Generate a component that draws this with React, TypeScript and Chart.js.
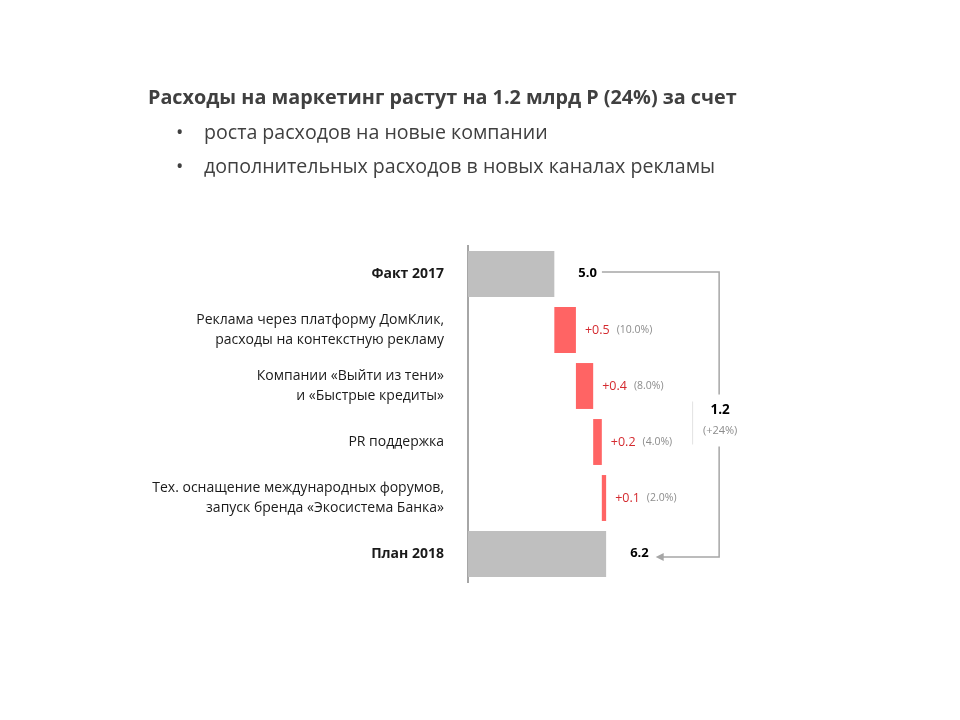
import React, { useEffect, useRef } from "react";
import { Chart, registerables } from "chart.js";

Chart.register(...registerables);

const categories: (string | string[])[] = [
  "Факт 2017",
  ["Реклама через платформу ДомКлик,", "расходы на контекстную рекламу"],
  ["Компании «Выйти из тени»", "и «Быстрые кредиты»"],
  "PR поддержка",
  ["Тех. оснащение международных форумов,", "запуск бренда «Экосистема Банка»"],
  "План 2018",
];
const values = [5.0, 0.5, 0.4, 0.2, 0.1, 6.2];
const isTotal = [true, false, false, false, false, true];
const shareLabels = ["", "(10.0%)", "(8.0%)", "(4.0%)", "(2.0%)", ""];
const totalChange = "1.2";
const totalChangePct = "(+24%)";
const titleText = "Расходы на маркетинг растут на 1.2 млрд Р (24%) за счет";
const bullets = [
  "роста расходов на новые компании",
  "дополнительных расходов в новых каналах рекламы",
];
const axisMin = 3;
const axisMax = 9;

const FONT = "'Open Sans', 'Noto Sans', sans-serif";
const GRAY_BAR = "#bfbfbf";
const RED_BAR = "#ff6464";
const RED_TEXT = "#d42a2f";
const LINE = "#a6a6a6";

function buildFloating(): [number, number][] {
  const out: [number, number][] = [];
  let cum = 0;
  values.forEach((v, i) => {
    if (isTotal[i]) {
      out.push([axisMin, v]);
      cum = v;
    } else {
      out.push([cum, cum + v]);
      cum += v;
    }
  });
  return out;
}

const labelPlugin = {
  id: "waterfallLabels",
  afterDatasetsDraw(chart: any) {
    const ctx = chart.ctx as CanvasRenderingContext2D;
    const meta = chart.getDatasetMeta(0);
    const bars = meta.data as any[];
    ctx.save();
    ctx.textBaseline = "middle";
    ctx.textAlign = "left";
    const totalLabelRight: number[] = [];
    bars.forEach((bar, i) => {
      const endX = Math.max(bar.x, bar.base);
      if (isTotal[i]) {
        ctx.font = `bold 13px ${FONT}`;
        ctx.fillStyle = "#000000";
        const t = values[i].toFixed(1);
        const x = endX + 24;
        ctx.fillText(t, x, bar.y - 1);
        totalLabelRight[i] = x + ctx.measureText(t).width;
      } else {
        ctx.font = `12.5px ${FONT}`;
        ctx.fillStyle = RED_TEXT;
        const t = "+" + values[i].toFixed(1);
        const x = endX + 9;
        ctx.fillText(t, x, bar.y);
        const w = ctx.measureText(t).width;
        ctx.font = `10.5px ${FONT}`;
        ctx.fillStyle = "#8c8c8c";
        ctx.fillText(shareLabels[i], x + w + 7, bar.y);
      }
    });

    // bracket
    const first = bars[0];
    const last = bars[bars.length - 1];
    const lastEnd = Math.max(last.x, last.base);
    const bx = lastEnd + 113;
    const yTop = first.y - 2;
    const yBot = last.y + 3;
    ctx.strokeStyle = LINE;
    ctx.lineWidth = 1.5;
    ctx.beginPath();
    ctx.moveTo(totalLabelRight[0] + 5, yTop);
    ctx.lineTo(bx, yTop);
    ctx.lineTo(bx, yBot);
    ctx.lineTo(totalLabelRight[bars.length - 1] + 12, yBot);
    ctx.stroke();
    // arrow head
    const tip = totalLabelRight[bars.length - 1] + 7;
    ctx.fillStyle = LINE;
    ctx.beginPath();
    ctx.moveTo(tip, yBot);
    ctx.lineTo(tip + 8, yBot - 4);
    ctx.lineTo(tip + 8, yBot + 4);
    ctx.closePath();
    ctx.fill();

    // label box
    const mid = (yTop + yBot) / 2;
    ctx.fillStyle = "#ffffff";
    ctx.fillRect(bx - 27, mid - 20, 60, 52);
    ctx.strokeStyle = "#e2e2e2";
    ctx.lineWidth = 1;
    ctx.beginPath();
    ctx.moveTo(bx - 26.5, mid - 13);
    ctx.lineTo(bx - 26.5, mid + 30);
    ctx.stroke();
    ctx.textAlign = "center";
    ctx.font = `bold 13.5px ${FONT}`;
    ctx.fillStyle = "#000000";
    ctx.fillText(totalChange, bx + 1, mid - 4);
    ctx.font = `11px ${FONT}`;
    ctx.fillStyle = "#8c8c8c";
    ctx.fillText(totalChangePct, bx + 1, mid + 16);
    ctx.restore();
  },
};

function WaterfallChart() {
  const ref = useRef<HTMLCanvasElement>(null);
  useEffect(() => {
    if (!ref.current) return;
    const chart = new Chart(ref.current, {
      type: "bar",
      data: {
        labels: categories as any,
        datasets: [
          {
            data: buildFloating() as any,
            backgroundColor: values.map((_, i) => (isTotal[i] ? GRAY_BAR : RED_BAR)),
            borderWidth: 0,
            barPercentage: 0.82,
            categoryPercentage: 1,
          },
        ],
      },
      options: {
        indexAxis: "y",
        responsive: false,
        animation: false,
        layout: { padding: { top: 246, bottom: 138, right: 233, left: 0 } },
        plugins: {
          legend: { display: false },
          tooltip: { enabled: false },
          title: { display: false },
        },
        scales: {
          x: { type: "linear", min: axisMin, max: axisMax, display: false },
          y: {
            grid: { display: false },
            border: { display: true, color: LINE, width: 2 },
            ticks: {
              padding: 16,
              color: "#1a1a1a",
              font: (c: any) => ({
                family: FONT,
                size: 14,
                weight: isTotal[c.index] ? "bold" : "normal",
                lineHeight: 1.36,
              }),
            },
            afterFit: (scale: any) => {
              scale.width = 468;
            },
          },
        },
      },
      plugins: [labelPlugin],
    });
    return () => chart.destroy();
  }, []);
  return <canvas ref={ref} width={960} height={720} style={{ position: "absolute", left: 0, top: 0 }} />;
}

export default function App() {
  return (
    <div
      style={{
        position: "fixed",
        left: 0,
        top: 0,
        width: 960,
        height: 720,
        background: "#ffffff",
        fontFamily: FONT,
        color: "#404040",
      }}
    >
      <WaterfallChart />
      <div
        style={{
          position: "absolute",
          left: 148,
          top: 84,
          fontSize: 19.8,
          lineHeight: "26px",
          fontWeight: "bold",
          whiteSpace: "nowrap",
        }}
      >
        {titleText}
      </div>
      {bullets.map((b, i) => (
        <div
          key={i}
          style={{
            position: "absolute",
            left: 176,
            top: 119 + i * 34,
            fontSize: 19.6,
            lineHeight: "26px",
            whiteSpace: "nowrap",
          }}
        >
          <span style={{ display: "inline-block", width: 28 }}>•</span>
          {b}
        </div>
      ))}
    </div>
  );
}
